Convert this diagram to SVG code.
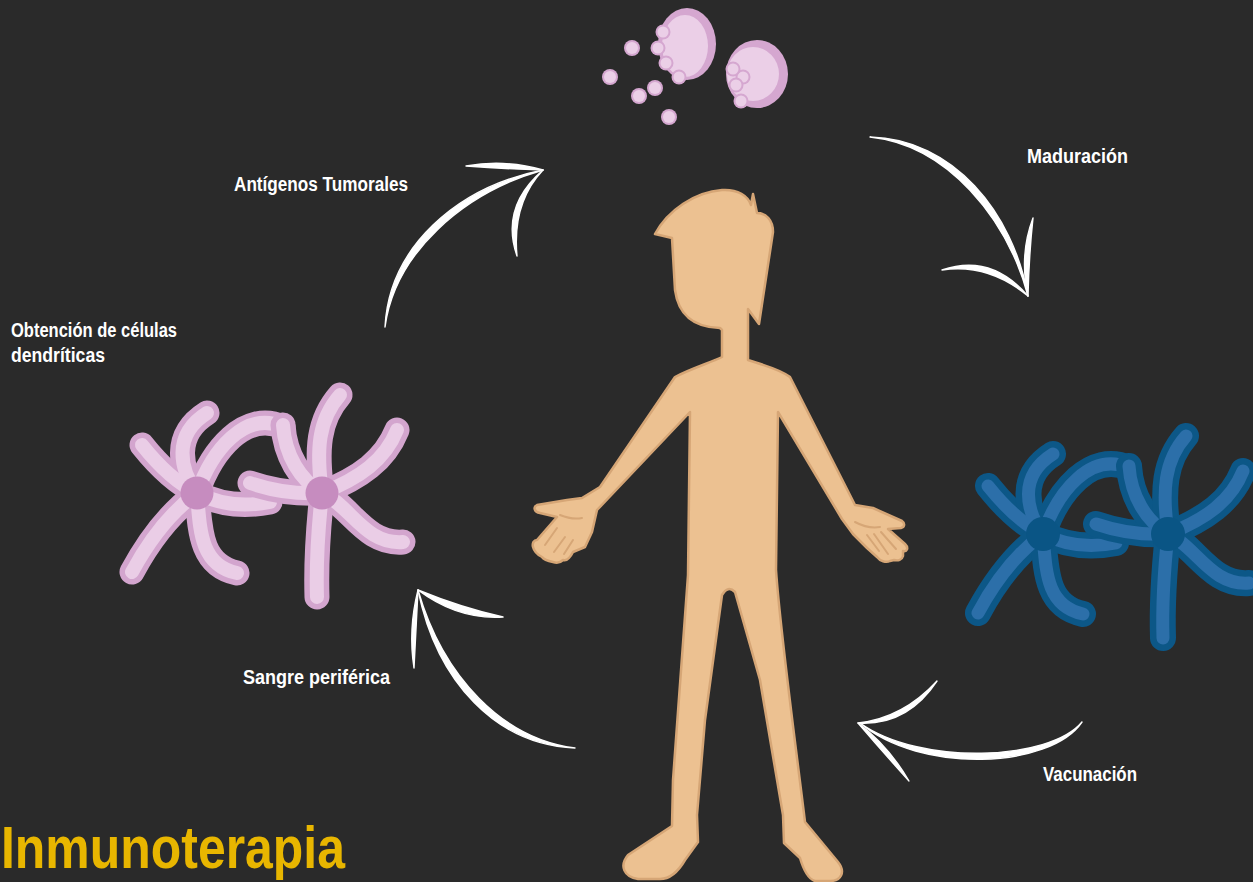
<svg xmlns="http://www.w3.org/2000/svg" xmlns:xlink="http://www.w3.org/1999/xlink" width="1253" height="882" viewBox="0 0 1253 882">
  <defs>
    <style>
      .bg { fill: #2a2a2a; }
      .label { font-family: "Liberation Sans", "Open Sans", sans-serif; font-weight: bold; font-size: 20px; fill: #ffffff; }
      .title { font-family: "Liberation Sans", "Open Sans", sans-serif; font-weight: bold; font-size: 60px; fill: #e8b600; }
      .arrow { fill: #ffffff; stroke: #ffffff; stroke-width: 1.4; stroke-linejoin: round; }
      .skin { fill: #ecc191; stroke: #d6a676; stroke-width: 2.5; stroke-linejoin: round; }
      .crease { fill: none; stroke: #d6a676; stroke-width: 2; stroke-linecap: round; }
      .arm { fill: none; stroke-linecap: round; stroke-linejoin: round; }
      .pink-o { stroke: #d3a5ce; stroke-width: 25; }
      .pink-i { stroke: #eacde6; stroke-width: 14; }
      .pink-n { fill: #c68cbf; }
      .blue-o { stroke: #0c5787; stroke-width: 26; }
      .blue-i { stroke: #2c6fa9; stroke-width: 13; }
      .blue-n { fill: #0a5585; }
      .ag-o { fill: #d5a7d0; }
      .ag-i { fill: #ebcfe7; }
    </style>
    <!-- arms of the two cells of a dendritic pair -->
    <g id="cellA">
      <path d="M197,493 Q170,480 142,445"/>
      <path d="M197,493 C180,470 172,435 207,413"/>
      <path d="M197,493 C212,450 245,410 283,427"/>
      <path d="M197,493 Q230,510 270,502"/>
      <path d="M197,493 Q160,520 132,572"/>
      <path d="M197,493 C200,530 200,565 237,573"/>
    </g>
    <g id="cellB">
      <path d="M322,493 Q285,495 250,483"/>
      <path d="M322,493 C300,480 285,455 283,425"/>
      <path d="M322,493 C316,450 318,420 340,395"/>
      <path d="M322,493 C360,478 385,460 397,430"/>
      <path d="M322,493 C350,505 365,545 403,542"/>
      <path d="M322,493 C318,530 316,565 317,597"/>
    </g>
  </defs>

  <rect class="bg" x="0" y="0" width="1253" height="882"/>

  <!-- tumour antigens -->
  <g id="antigens">
    <ellipse class="ag-o" cx="687" cy="44" rx="29" ry="36"/>
    <ellipse class="ag-i" cx="685" cy="46" rx="23" ry="31"/>
    <ellipse class="ag-o" cx="757" cy="74" rx="31" ry="34"/>
    <ellipse class="ag-i" cx="753" cy="74" rx="26" ry="27"/>
    <g>
      <circle class="ag-o" cx="663" cy="32" r="7.5"/><circle class="ag-i" cx="663" cy="32" r="5.5"/>
      <circle class="ag-o" cx="658" cy="48" r="7.5"/><circle class="ag-i" cx="658" cy="48" r="5.5"/>
      <circle class="ag-o" cx="666" cy="63" r="7.5"/><circle class="ag-i" cx="666" cy="63" r="5.5"/>
      <circle class="ag-o" cx="679" cy="77" r="7.5"/><circle class="ag-i" cx="679" cy="77" r="5.5"/>
      <circle class="ag-o" cx="743" cy="77" r="7.5"/><circle class="ag-i" cx="743" cy="77" r="5.5"/>
      <circle class="ag-o" cx="733" cy="69" r="7.5"/><circle class="ag-i" cx="733" cy="69" r="5.5"/>
      <circle class="ag-o" cx="736" cy="85" r="7.5"/><circle class="ag-i" cx="736" cy="85" r="5.5"/>
      <circle class="ag-o" cx="741" cy="101" r="7.5"/><circle class="ag-i" cx="741" cy="101" r="5.5"/>
      <circle class="ag-o" cx="632" cy="48" r="8"/><circle class="ag-i" cx="632" cy="48" r="6"/>
      <circle class="ag-o" cx="610" cy="77" r="8"/><circle class="ag-i" cx="610" cy="77" r="6"/>
      <circle class="ag-o" cx="655" cy="88" r="8"/><circle class="ag-i" cx="655" cy="88" r="6"/>
      <circle class="ag-o" cx="639" cy="96" r="8"/><circle class="ag-i" cx="639" cy="96" r="6"/>
      <circle class="ag-o" cx="669" cy="117" r="8"/><circle class="ag-i" cx="669" cy="117" r="6"/>
    </g>
  </g>

  <!-- immature dendritic cells -->
  <g id="cells-immature">
    <use xlink:href="#cellA" class="arm pink-o"/>
    <use xlink:href="#cellA" class="arm pink-i"/>
    <circle class="pink-n" cx="197" cy="493" r="16.5"/>
    <use xlink:href="#cellB" class="arm pink-o"/>
    <use xlink:href="#cellB" class="arm pink-i"/>
    <circle class="pink-n" cx="322" cy="493" r="16.5"/>
  </g>

  <!-- mature dendritic cells -->
  <g id="cells-mature" transform="translate(846,41)">
    <use xlink:href="#cellA" class="arm blue-o"/>
    <use xlink:href="#cellA" class="arm blue-i"/>
    <circle class="blue-n" cx="197" cy="493" r="17"/>
    <use xlink:href="#cellB" class="arm blue-o"/>
    <use xlink:href="#cellB" class="arm blue-i"/>
    <circle class="blue-n" cx="322" cy="493" r="17"/>
  </g>

  <!-- patient -->
  <g id="patient">
    <path class="skin" d="M655,234 C668,210 695,192 722,190 C738,189 748,196 751,205 L753,194 L757,213 C766,213 773,220 773,232 L759,324 L748,309 L748,360 C760,364 780,369 790,377 L855,505 L873,508 L902,521 C905,523 905,527 901,528 L888,529 L905,544 C909,548 907,552 903,551 L903,556 C902,560 898,561 894,560 L890,561 C886,563 880,561 877,557 L867,548 L853,534 L842,519 L778,412 L776,570 C780,630 795,740 805,822 L838,862 C846,872 841,881 830,881 L815,881 C808,879 803,868 800,858 L784,843 L783,815 L760,680 L735,592 Q728,585 722,595 L705,720 L697,815 L698,842 L685,860 C678,872 670,879 660,879 L638,879 C624,877 619,866 628,855 L672,826 L673,780 L688,575 L690,412 L597,510 L592,532 L585,547 L573,552 C570,558 566,561 563,560 C560,563 556,563 553,562 C548,561 544,560 542,557 C538,555 534,551 533,547 C532,543 534,540 537,540 L557,517 L540,513 C534,512 533,507 537,505 L567,500 L582,498 L600,487 L675,377 C690,369 712,362 722,357 L722,330 L720,328 C690,327 678,312 675,290 L672,238 Z"/>
    <path class="crease" d="M560,515 Q572,520 582,518"/>
    <path class="crease" d="M557,528 L545,545"/>
    <path class="crease" d="M565,537 L554,552"/>
    <path class="crease" d="M573,540 L564,554"/>
    <path class="crease" d="M855,522 Q868,529 880,527"/>
    <path class="crease" d="M867,535 L879,551"/>
    <path class="crease" d="M874,534 L888,554"/>
    <path class="crease" d="M881,532 L896,549"/>
  </g>

  <!-- cycle arrows -->
  <g id="connectors">
    <g id="arrow-antigenos">
      <path class="arrow" d="M385,327 C389,247 457,187 543,170 C463,193 395,253 385,327 Z"/>
      <path class="arrow" d="M466,166 Q505,159 543,170 Q505,169 466,166 Z"/>
      <path class="arrow" d="M543,170 Q500,207 517,256 Q512,203 543,170 Z"/>
    </g>
    <g id="arrow-maduracion">
      <path class="arrow" d="M870,137 C953,139 1013,212 1028,296 C1007,218 947,145 870,137 Z"/>
      <path class="arrow" d="M942,270 Q991,253 1028,296 Q988,263 942,270 Z"/>
      <path class="arrow" d="M1033,218 Q1029,255 1028,296 Q1019,255 1033,218 Z"/>
    </g>
    <g id="arrow-vacunacion">
      <path class="arrow" d="M1082,722 C1050,769 920,774 860,723 C920,766 1050,761 1082,722 Z"/>
      <path class="arrow" d="M858,723 Q907,726 937,681 Q903,718 858,723 Z"/>
      <path class="arrow" d="M858,723 Q888,745 909,781 Q882,751 858,723 Z"/>
    </g>
    <g id="arrow-sangre">
      <path class="arrow" d="M575,748 C503,739 443,677 418,590 C437,683 497,745 575,748 Z"/>
      <path class="arrow" d="M418,590 Q462,608 503,617 Q458,620 418,590 Z"/>
      <path class="arrow" d="M418,590 Q408,630 414,668 Q416,630 418,590 Z"/>
    </g>
  </g>

  <!-- step labels -->
  <g id="labels">
    <text class="label" x="234" y="191" textLength="174" lengthAdjust="spacingAndGlyphs">Antígenos Tumorales</text>
    <text class="label" x="1027" y="163" textLength="101" lengthAdjust="spacingAndGlyphs">Maduración</text>
    <text class="label" x="11" y="337" textLength="166" lengthAdjust="spacingAndGlyphs">Obtención de células</text>
    <text class="label" x="11" y="362" textLength="94" lengthAdjust="spacingAndGlyphs">dendríticas</text>
    <text class="label" x="243" y="684" textLength="147" lengthAdjust="spacingAndGlyphs">Sangre periférica</text>
    <text class="label" x="1043" y="781" textLength="94" lengthAdjust="spacingAndGlyphs">Vacunación</text>
  </g>

  <text id="title" class="title" x="1" y="868" textLength="344" lengthAdjust="spacingAndGlyphs">Inmunoterapia</text>
</svg>
